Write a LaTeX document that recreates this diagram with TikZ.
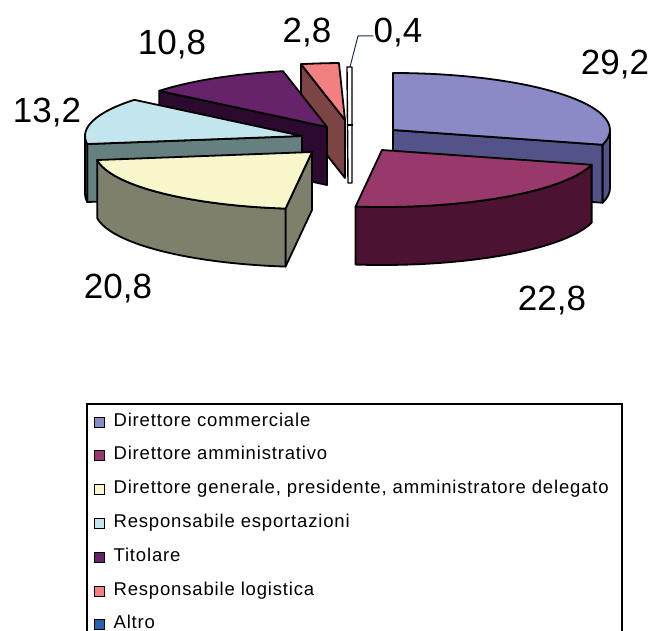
\documentclass[tikz,border=0pt]{standalone}
\usepackage{fontspec}
\setmainfont{Liberation Sans}
\usetikzlibrary{positioning}
\definecolor{commTop}{HTML}{8A8AC6}
\definecolor{commSide}{HTML}{53538A}
\definecolor{ammTop}{HTML}{99386A}
\definecolor{ammSide}{HTML}{4B1232}
\definecolor{genTop}{HTML}{F8F6CB}
\definecolor{genSide}{HTML}{7E806B}
\definecolor{espTop}{HTML}{C2E5EE}
\definecolor{espSide}{HTML}{66807F}
\definecolor{titTop}{HTML}{66236A}
\definecolor{titSide}{HTML}{2C0A30}
\definecolor{logTop}{HTML}{F28080}
\definecolor{logSide}{HTML}{7C4444}
\definecolor{altroTop}{HTML}{2462AD}
\tikzstyle{slice} = [draw, line width=1.8pt, line join=round]
\tikzstyle{value} = [inner sep=0pt, anchor=base, font=\fontsize{35}{35}\selectfont]
\tikzstyle{key} = [draw, line width=0.8pt, minimum size=10pt, inner sep=0pt]
\tikzstyle{entry} = [inner sep=0pt, text height=12pt, text depth=4pt, font=\fontsize{18.5}{18.5}\selectfont\addfontfeature{LetterSpace=4.5}]
\tikzstyle{leader} = [draw, line width=1pt, altroTop!50!black]
% top face, outer rim and cut face of one slice
\newcommand{\pietop}[4]{\filldraw[slice, fill=#4] (#1) -- ++(#2:217pt and 57pt) arc[start angle=#2, end angle=#3, x radius=217pt, y radius=57pt] -- cycle;}
\newcommand{\pierim}[4]{\filldraw[slice, fill=#4] (#1) ++(#2:217pt and 57pt) arc[start angle=#2, end angle=#3, x radius=217pt, y radius=57pt] -- ++(0,-58) arc[start angle=#3, end angle=#2, x radius=217pt, y radius=57pt] -- cycle;}
\newcommand{\piecut}[3]{\filldraw[slice, fill=#3] (#1) -- ++(#2:217pt and 57pt) -- ++(0,-58) -- ++(#2+180:217pt and 57pt) -- cycle;}
\begin{document}
\begin{tikzpicture}[x=1pt, y=1pt]
	\useasboundingbox (0,0) rectangle (655,630);
	\coordinate (comm) at (393,500);
	\coordinate (amm) at (382,480);
	\coordinate (gen) at (312,478);
	\coordinate (esp) at (302,494);
	\coordinate (tit) at (327,503);
	\coordinate (log) at (345,510);
	
	\piecut{log}{101.7}{logSide}
	\pietop{log}{91.6}{101.7}{logTop}
	\filldraw[slice, line width=1.4pt, fill=white] (347,563) -- (352,563) -- (352,447) -- (348,447) -- cycle;
	\draw[slice, line width=1.4pt] (348,505) -- (353,505);
	\piecut{tit}{140.6}{titSide}
	\pietop{tit}{101.7}{140.6}{titTop}
	\piecut{comm}{-15}{commSide}
	\pierim{comm}{-15}{0}{commSide}
	\pietop{comm}{-15}{90}{commTop}
	\piecut{esp}{188.1}{espSide}
	\pierim{esp}{180}{188.1}{espSide}
	\pietop{esp}{140.6}{188.1}{espTop}
	\pierim{amm}{-97}{-15}{ammSide}
	\pietop{amm}{-97}{-15}{ammTop}
	\piecut{gen}{263}{genSide}
	\pierim{gen}{188.1}{263}{genSide}
	\pietop{gen}{188.1}{263}{genTop}
	
	\node[value] (commVal) at (615,555) {29,2};
	\node[value] (ammVal) at (552,320) {22,8};
	\node[value] (genVal) at (118,332) {20,8};
	\node[value] (espVal) at (47,507) {13,2};
	\node[value] (titVal) at (172,575) {10,8};
	\node[value] (logVal) at (307,587) {2,8};
	\node[value] (altroVal) at (398,587) {0,4};
	\coordinate (altroTip) at (350,563);
	\coordinate (altroBend) at (358,594);
	\path[leader] (altroTip) -- (altroBend) -- (altroVal.west |- altroBend);
	
	\draw[line width=1.2pt] (87,226) rectangle (622,-10);
	\node[key, fill=commTop] (commKey) at (99,208) {};
	\node[key, fill=ammTop, below = 23pt of commKey] (ammKey) {};
	\node[key, fill=genTop, below = 23pt of ammKey] (genKey) {};
	\node[key, fill=espTop, below = 23pt of genKey] (espKey) {};
	\node[key, fill=titTop, below = 23pt of espKey] (titKey) {};
	\node[key, fill=logTop, below = 23pt of titKey] (logKey) {};
	\node[key, fill=altroTop, below = 23pt of logKey] (altroKey) {};
	\node[entry, right = 9pt of commKey] (commText) {Direttore commerciale};
	\node[entry, right = 9pt of ammKey] (ammText) {Direttore amministrativo};
	\node[entry, right = 9pt of genKey] (genText) {Direttore generale, presidente, amministratore delegato};
	\node[entry, right = 9pt of espKey] (espText) {Responsabile esportazioni};
	\node[entry, right = 9pt of titKey] (titText) {Titolare};
	\node[entry, right = 9pt of logKey] (logText) {Responsabile logistica};
	\node[entry, right = 9pt of altroKey] (altroText) {Altro};
\end{tikzpicture}
\end{document}
